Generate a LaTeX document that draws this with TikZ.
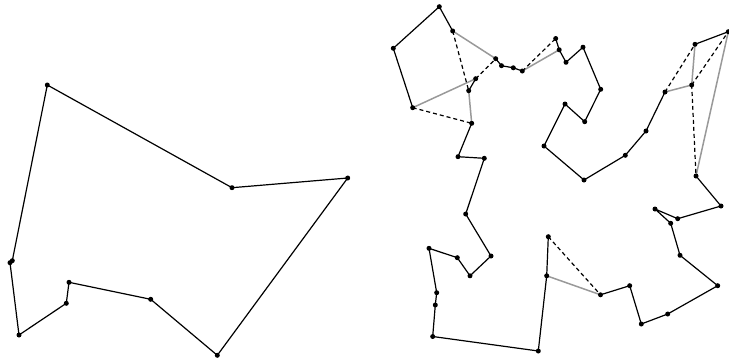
\documentclass[tikz,border=0pt]{standalone}
\begin{document}
\begin{tikzpicture}[x=1pt,y=-1pt,
  tour/.style={line width=1.2pt,black,line join=round},
  removed/.style={line width=1.5pt,black!40},
  added/.style={line width=1.2pt,black,dash pattern=on 4pt off 3pt},
  dot/.style={fill=black}]
\useasboundingbox (0,0) rectangle (729,362);
% left polygon
\foreach \n/\x/\y in {a1/47.3/85,a2/232/187.7,a3/347.7/178,a4/217.3/355.3,a5/150.7/299.3,a6/69/282.3,a7/66.3/303.3,a8/19/335,a9/10/262.7,a10/12.3/260.7}
  \coordinate (\n) at (\x,\y);
\draw[tour] (a1)--(a2)--(a3)--(a4)--(a5)--(a6)--(a7)--(a8)--(a9)--(a10)--cycle;
% right tour
\foreach \n/\x/\y in {r1/439.3/6.7,r2/393.3/48.3,r3/412.7/107.7,r4/452.7/31,r5/495.7/58.7,r6/501.5/65.7,r7/513.3/67.8,r8/522.3/71,r9/475.7/78.7,r10/468.7/90.7,r11/471.7/123.3,r12/555.7/38.5,r13/559.2/49.8,r14/566/62.3,r15/583/47.2,r16/600.7/89.3,r17/584.7/121.7,r18/565/104,r19/544/146,r20/584/180,r21/625.3/155.3,r22/646/131,r23/665/92,r24/691.7/85,r25/695/44.3,r26/728.3/31.7,r27/696/176,r28/721/206,r29/677.7/218.7,r30/655/209,r31/670.7/223.3,r32/680/255.3,r33/717.7/285.7,r34/667.7/314,r35/641.3/324,r36/629.7/285.7,r37/600.5/294.8,r38/546.7/275.8,r39/548.3/236.7,r40/538.3/351,r41/432.7/336.5,r42/435.3/305,r43/436.7/292.7,r44/429/248.3,r45/457.3/257.7,r46/470/275.8,r47/491/256,r48/465.7/214,r49/484.3/158.3,r50/458/156.7}
  \coordinate (\n) at (\x,\y);
% removed edges
\draw[removed] (r4)--(r5) (r3)--(r9) (r10)--(r11) (r8)--(r13) (r38)--(r37) (r27)--(r26) (r25)--(r24) (r24)--(r23);
% added edges
\draw[added] (r4)--(r10) (r9)--(r5) (r3)--(r11) (r8)--(r12) (r39)--(r37) (r23)--(r25) (r24)--(r26) (r24)--(r27);
% tour edges
\draw[tour] (r3)--(r2)--(r1)--(r4);
\draw[tour] (r5)--(r6)--(r7)--(r8);
\draw[tour] (r9)--(r10);
\draw[tour] (r11)--(r50)--(r49)--(r48)--(r47)--(r46)--(r45)--(r44)--(r43)--(r42)--(r41)--(r40)--(r38)--(r39);
\draw[tour] (r37)--(r36)--(r35)--(r34)--(r33)--(r32)--(r31)--(r30)--(r29)--(r28)--(r27);
\draw[tour] (r25)--(r26);
\draw[tour] (r23)--(r22)--(r21)--(r20)--(r19)--(r18)--(r17)--(r16)--(r15)--(r14)--(r13)--(r12);
% dots
\foreach \n in {a1,a2,a3,a4,a5,a6,a7,a8,a9,a10}
  \fill[dot] (\n) circle (2.5pt);
\foreach \i in {1,...,50}
  \fill[dot] (r\i) circle (2.5pt);
\end{tikzpicture}
\end{document}
